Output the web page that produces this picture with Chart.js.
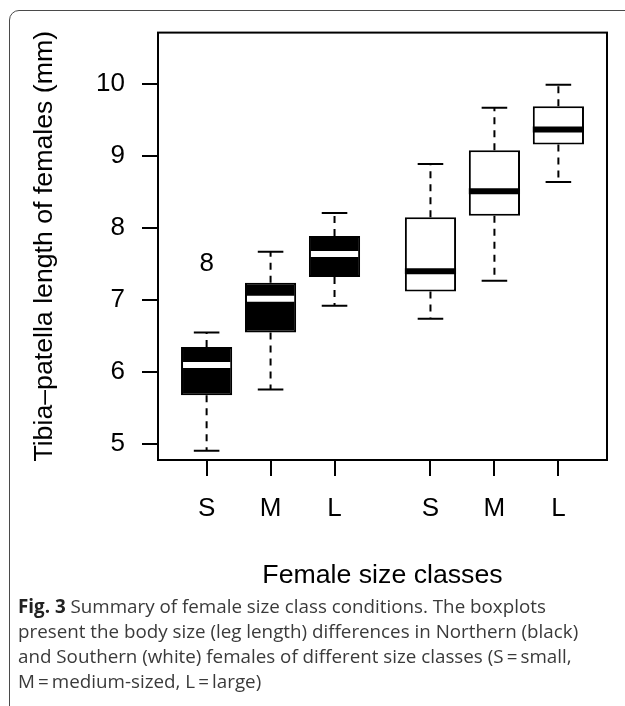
<!DOCTYPE html>
<html lang="en">
<head>
<meta charset="UTF-8">
<title>Fig. 3 Female size classes</title>
<script src="https://cdn.jsdelivr.net/npm/chart.js"></script>
<style>
    body {
        margin: 0;
        width: 625px;
        height: 706px;
        overflow: hidden;
        background: #fff;
        position: relative;
    }
    .frame {
        position: absolute;
        left: 9px;
        top: 10px;
        width: 660px;
        height: 740px;
        border: 1.5px solid #4a4a4a;
        border-radius: 10px;
    }
    #boxChart {
        position: absolute;
        left: 0;
        top: 0;
    }
    .caption {
        position: absolute;
        left: 18px;
        top: 594px;
        width: 605px;
        font-family: "Open Sans", sans-serif;
        font-size: 18.8px;
        line-height: 25px;
        color: #3a3a3a;
        white-space: nowrap;
    }
    .caption b {
        color: #222;
    }
</style>
</head>
<body>
<div class="frame"></div>
<canvas id="boxChart" width="625" height="598"></canvas>
<div class="caption"><b>Fig. 3</b> Summary of female size class conditions. The boxplots<br>present the body size (leg length) differences in Northern (black)<br>and Southern (white) females of different size classes (S&#8201;=&#8201;small,<br>M&#8201;=&#8201;medium-sized, L&#8201;=&#8201;large)</div>
<script>
    // box positions on the x axis (R-style at = c(1,2,3,4.5,5.5,6.5))
    const positions = [1, 2, 3, 4.5, 5.5, 6.5];
    const classLabels = ['S', 'M', 'L', 'S', 'M', 'L'];
    const regions = ['Northern', 'Northern', 'Northern', 'Southern', 'Southern', 'Southern'];

    const lowerWhisker  = [4.91, 5.76, 6.92, 6.74, 7.27, 8.64];
    const lowerQuartile = [5.68, 6.55, 7.32, 7.12, 8.17, 9.16];
    const medians       = [6.10, 7.02, 7.64, 7.40, 8.51, 9.37];
    const upperQuartile = [6.35, 7.24, 7.89, 8.15, 9.08, 9.69];
    const upperWhisker  = [6.55, 7.67, 8.21, 8.89, 9.67, 9.99];

    const outlierX = [1];
    const outlierY = [7.5];

    const yTicks = [5, 6, 7, 8, 9, 10];

    const fillFor = { Northern: '#000000', Southern: '#ffffff' };
    const medianFor = { Northern: '#ffffff', Southern: '#000000' };
    const tickFont = { family: '"Liberation Sans", Arial, sans-serif', size: 26 };
    const titleFont = { family: '"Liberation Sans", Arial, sans-serif', size: 26.7 };

    const boxplotExtras = {
        id: 'boxplotExtras',
        afterDatasetsDraw(chart) {
            let ctx = chart.ctx;
            let x = chart.scales.x;
            let y = chart.scales.y;
            let bars = chart.getDatasetMeta(0).data;

            ctx.save();
            ctx.strokeStyle = '#000';
            ctx.lineWidth = 2;

            bars.forEach(function(bar, i) {
                let cx = x.getPixelForValue(positions[i]);
                let w = bar.width;
                let yq1 = y.getPixelForValue(lowerQuartile[i]);
                let yq3 = y.getPixelForValue(upperQuartile[i]);
                let ylo = y.getPixelForValue(lowerWhisker[i]);
                let yhi = y.getPixelForValue(upperWhisker[i]);

                // dashed whiskers
                ctx.setLineDash([7, 6]);
                ctx.beginPath();
                ctx.moveTo(cx, yq3);
                ctx.lineTo(cx, yhi);
                ctx.moveTo(cx, yq1);
                ctx.lineTo(cx, ylo);
                ctx.stroke();

                // staples
                ctx.setLineDash([]);
                ctx.beginPath();
                ctx.moveTo(cx - w / 4, yhi);
                ctx.lineTo(cx + w / 4, yhi);
                ctx.moveTo(cx - w / 4, ylo);
                ctx.lineTo(cx + w / 4, ylo);
                ctx.stroke();

                // median
                let inset = regions[i] === 'Northern' ? 2 : 0;
                ctx.strokeStyle = medianFor[regions[i]];
                ctx.lineWidth = 6;
                ctx.beginPath();
                ctx.moveTo(cx - w / 2 + inset, y.getPixelForValue(medians[i]));
                ctx.lineTo(cx + w / 2 - inset, y.getPixelForValue(medians[i]));
                ctx.stroke();
                ctx.strokeStyle = '#000';
                ctx.lineWidth = 2;
            });

            // outliers drawn as the character "8"
            ctx.fillStyle = '#000';
            ctx.font = '26px "Liberation Sans", Arial, sans-serif';
            ctx.textAlign = 'center';
            ctx.textBaseline = 'middle';
            chart.getDatasetMeta(1).data.forEach(function(pt) {
                ctx.fillText('8', pt.x, pt.y);
            });

            // plot box
            let a = chart.chartArea;
            ctx.strokeRect(a.left, a.top, a.right - a.left, a.bottom - a.top);
            ctx.restore();
        }
    };

    new Chart(document.getElementById('boxChart'), {
        type: 'bar',
        data: {
            datasets: [{
                label: 'boxes',
                data: positions.map(function(p, i) {
                    return { x: p, y: [lowerQuartile[i], upperQuartile[i]] };
                }),
                backgroundColor: regions.map(function(r) { return fillFor[r]; }),
                borderColor: '#000',
                borderWidth: 2,
                borderSkipped: false,
                categoryPercentage: 0.8,
                barPercentage: 1.0
            }, {
                type: 'scatter',
                label: 'outliers',
                data: outlierX.map(function(v, i) { return { x: v, y: outlierY[i] }; }),
                pointRadius: 0
            }]
        },
        options: {
            responsive: false,
            animation: false,
            layout: { padding: { left: 29, right: 18, top: 28, bottom: 0 } },
            plugins: {
                legend: { display: false },
                tooltip: { enabled: false }
            },
            scales: {
                x: {
                    type: 'linear',
                    min: 0.24,
                    max: 7.26,
                    offset: false,
                    afterBuildTicks: function(axis) {
                        axis.ticks = positions.map(function(v) { return { value: v }; });
                    },
                    afterFit: function(axis) { axis.height = 138; },
                    ticks: {
                        autoSkip: false,
                        maxRotation: 0,
                        padding: 17,
                        color: '#000',
                        font: tickFont,
                        callback: function(value, index) { return classLabels[index]; }
                    },
                    grid: { display: true, offset: false, drawOnChartArea: false, drawTicks: true, tickLength: 16, color: '#000', lineWidth: 2 },
                    border: { display: false },
                    title: {
                        display: true,
                        text: 'Female size classes',
                        color: '#000',
                        font: titleFont,
                        padding: { top: 0, bottom: 6 }
                    }
                },
                y: {
                    min: 4.78,
                    max: 10.714,
                    afterBuildTicks: function(axis) {
                        axis.ticks = yTicks.map(function(v) { return { value: v }; });
                    },
                    afterFit: function(axis) { axis.width = 129; },
                    ticks: {
                        padding: 17,
                        color: '#000',
                        font: tickFont
                    },
                    grid: { display: true, offset: false, drawOnChartArea: false, drawTicks: true, tickLength: 16, color: '#000', lineWidth: 2 },
                    border: { display: false },
                    title: {
                        display: true,
                        text: 'Tibia\u2013patella length of females (mm)',
                        color: '#000',
                        font: titleFont,
                        padding: 0
                    }
                }
            }
        },
        plugins: [boxplotExtras]
    });
</script>
</body>
</html>
